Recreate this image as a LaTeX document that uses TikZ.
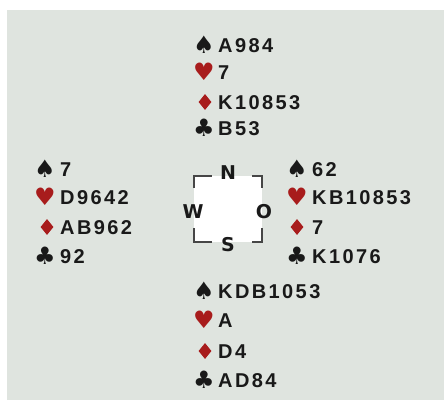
\documentclass[tikz,border=0pt]{standalone}
\usepackage{fontspec}
\usetikzlibrary{shapes.geometric}
\setmainfont{Liberation Sans}
\newfontfamily\handfont{Liberation Sans Bold}[LetterSpace=12]
\newfontfamily\suitfont{DejaVu Sans}
\newfontfamily\compfont{DejaVu Sans Bold}
\definecolor{bg}{RGB}{223,228,223}
\definecolor{suitred}{RGB}{168,28,28}
\definecolor{ink}{RGB}{25,25,25}
\definecolor{frame}{RGB}{70,70,70}
\tikzset{
  sym/.style={inner sep=0pt, font=\suitfont\fontsize{24}{24}\selectfont, text=ink},
  redsym/.style={sym, text=suitred},
  dia/.style={diamond, fill=suitred, inner sep=0pt, minimum width=13pt, minimum height=16pt},
  txt/.style={anchor=west, inner sep=0pt, text height=14.3pt, text depth=0pt,
    font=\handfont\fontsize{20}{20}\selectfont, text=ink},
  dir/.style={inner sep=0pt, font=\compfont\fontsize{19}{19}\selectfont, text=ink},
  corner/.style={draw=frame, line width=1.6pt}
}
\begin{document}
\begin{tikzpicture}[x=1pt,y=-1pt]
\useasboundingbox (0,0) rectangle (444,402);
\fill[bg] (7,10) rectangle (444,400);
% North
\node[sym]    (ns) at (204,45) {♠};  \node[txt] (nst) at (218,45) {A984};
\node[redsym] (nh) at (204,72) {♥};  \node[txt] (nht) at (218,72) {7};
\node[dia]    (nd) at (205,102) {};  \node[txt] (ndt) at (218,102) {K10853};
\node[sym]    (nc) at (204,128) {♣}; \node[txt] (nct) at (218,128) {B53};
% West
\node[sym]    (ws) at (45,169) {♠};  \node[txt] (wst) at (60,169) {7};
\node[redsym] (wh) at (45,197) {♥};  \node[txt] (wht) at (60,197) {D9642};
\node[dia]    (wd) at (47,227) {};   \node[txt] (wdt) at (60,227) {AB962};
\node[sym]    (wc) at (45,256) {♣};  \node[txt] (wct) at (60,256) {92};
% East
\node[sym]    (es) at (297,169) {♠}; \node[txt] (est) at (312,169) {62};
\node[redsym] (eh) at (297,197) {♥}; \node[txt] (eht) at (312,197) {KB10853};
\node[dia]    (ed) at (297,227) {};  \node[txt] (edt) at (312,227) {7};
\node[sym]    (ec) at (297,256) {♣}; \node[txt] (ect) at (312,256) {K1076};
% South
\node[sym]    (ss) at (204,291) {♠}; \node[txt] (sst) at (218,291) {KDB1053};
\node[redsym] (sh) at (204,320) {♥}; \node[txt] (sht) at (218,320) {A};
\node[dia]    (sd) at (205,351) {};  \node[txt] (sdt) at (218,351) {D4};
\node[sym]    (sc) at (204,380) {♣}; \node[txt] (sct) at (218,380) {AD84};
% Compass
\fill[white] (194,176) rectangle (262,242);
\draw[corner] (194,188) -- (194,176) -- (212,176);
\draw[corner] (252,176) -- (262,176) -- (262,188);
\draw[corner] (194,228) -- (194,242) -- (212,242);
\draw[corner] (252,242) -- (262,242) -- (262,228);
\node[dir] (cn) at (228,173) {N};
\node[dir] (cw) at (193,212) {W};
\node[dir] (co) at (264,212) {O};
\node[dir] (cs) at (228,245) {S};
\end{tikzpicture}
\end{document}
